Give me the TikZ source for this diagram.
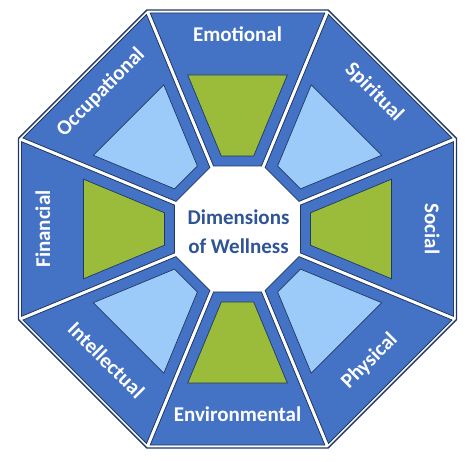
\documentclass[tikz,border=0pt]{standalone}
\usepackage{fontspec}
\setmainfont{Carlito}
\definecolor{segblue}{HTML}{4472C4}
\definecolor{navy}{HTML}{1F3864}
\definecolor{leaf}{HTML}{9BBB3B}
\definecolor{sky}{HTML}{9DCBF9}
\definecolor{titleblue}{HTML}{2F5496}
\begin{document}
\begin{tikzpicture}[x=1pt,y=1pt,
  seg/.style={fill=segblue,draw=navy,line width=0.8pt,line join=miter},
  innershape/.style={draw=navy,line width=0.7pt,line join=miter},
  lbl/.style={text=white,font=\bfseries\fontsize{21}{25}\selectfont,inner sep=0pt,text height=0.72em,text depth=0.2em},
  titletext/.style={text=titleblue,font=\bfseries\fontsize{21}{29}\selectfont,align=center,inner sep=0pt}]
\useasboundingbox (0,0) rectangle (474,461);
\coordinate (C) at (237.5,232);
% outer octagon
\begin{scope}[shift={(C)}]
\draw[navy,line width=1.4pt,fill=white,line join=miter]
  (22.5:237) -- (67.5:237) -- (112.5:237) -- (157.5:237) -- (202.5:237)
  -- (247.5:237) -- (292.5:237) -- (337.5:237) -- cycle;
\end{scope}
% segments
\foreach \t/\col/\name/\r [count=\k] in {
  90/leaf/Emotional/0,
  45/sky/Spiritual/-45,
  0/leaf/Social/-90,
  -45/sky/Physical/45,
  -90/leaf/Environmental/0,
  -135/sky/Intellectual/-45,
  180/leaf/Financial/90,
  135/sky/Occupational/45}{
  \begin{scope}[shift={(C)},rotate=\t]
    \draw[seg] (216,87.3) -- (216,-87.3) -- (63,-23.93) -- (63,23.93) -- cycle;
    \draw[innershape,fill=\col] (154,49.8) -- (154,-49.8) -- (73,-16.2) -- (73,16.2) -- cycle;
  \end{scope}
  \node[lbl,rotate=\r] (L\k) at ([shift={(\t:190)}]C) {\name};
}
\node[titletext] (title) at (238.5,229) {Dimensions\\of Wellness};
\end{tikzpicture}
\end{document}
